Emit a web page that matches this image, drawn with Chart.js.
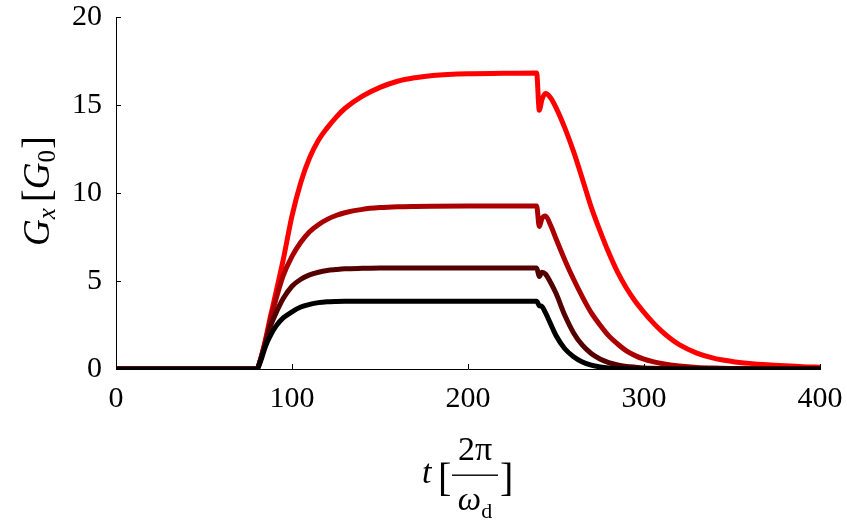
<!DOCTYPE html>
<html>
<head>
<meta charset="utf-8">
<script src="https://cdn.jsdelivr.net/npm/chart.js@4.4.1/dist/chart.umd.min.js"></script>
<style>
    html, body { margin: 0; padding: 0; background: #ffffff; }
    #wrap { width: 847px; height: 524px; position: relative; }
</style>
</head>
<body>
<div id="wrap"><canvas id="gxChart" width="847" height="524"></canvas></div>
<script>
// time axis, in units of 2*pi/omega_d
const times = [0, 80, 82, 85, 88, 91, 95, 100, 105, 110, 115, 120, 125, 130, 140, 150, 160, 170, 180, 200, 220, 239,
    240.5, 242, 244, 247, 250, 255, 260, 265, 270, 275, 280, 285, 290, 295, 300, 305, 310, 315, 320, 330, 340, 350, 360, 370, 380, 390, 400]

const gxRed = [0, 0, 0.5, 1.7, 3.1, 4.4, 6.2, 8.7, 10.6, 12.0, 13.0, 13.7, 14.3, 14.8, 15.5, 16.0, 16.35, 16.55, 16.68, 16.78, 16.8, 16.82,
    14.7, 15.3, 15.65, 15.4, 14.85, 13.7, 12.35, 10.8, 9.2, 7.85, 6.6, 5.5, 4.6, 3.85, 3.22, 2.65, 2.15, 1.73, 1.38, 0.9, 0.6, 0.43, 0.32, 0.24, 0.18, 0.13, 0.1]

const gxDarkRed = [0, 0, 0.5, 1.6, 2.9, 4.0, 5.3, 6.4, 7.2, 7.8, 8.2, 8.5, 8.72, 8.88, 9.07, 9.17, 9.22, 9.24, 9.25, 9.26, 9.26, 9.26,
    8.1, 8.55, 8.7, 8.15, 7.4, 6.2, 5.1, 4.1, 3.2, 2.5, 1.88, 1.42, 1.03, 0.76, 0.56, 0.42, 0.31, 0.23, 0.17, 0.09, 0.05, 0.03, 0.02, 0.01, 0.01, 0, 0]

const gxMaroon = [0, 0, 0.5, 1.5, 2.5, 3.2, 4.0, 4.7, 5.1, 5.35, 5.5, 5.6, 5.65, 5.69, 5.72, 5.74, 5.74, 5.74, 5.74, 5.74, 5.74, 5.74,
    5.25, 5.5, 5.4, 4.9, 4.3, 3.05, 2.05, 1.35, 0.88, 0.57, 0.36, 0.23, 0.15, 0.1, 0.06, 0.04, 0.03, 0.02, 0.01, 0, 0, 0, 0, 0, 0, 0, 0]

const gxBlack = [0, 0, 0.4, 1.3, 1.95, 2.45, 2.9, 3.25, 3.52, 3.67, 3.77, 3.82, 3.84, 3.85, 3.85, 3.85, 3.85, 3.85, 3.85, 3.85, 3.85, 3.85,
    3.6, 3.55, 3.2, 2.55, 1.9, 1.15, 0.7, 0.4, 0.22, 0.12, 0.06, 0.03, 0.01, 0, 0, 0, 0, 0, 0, 0, 0, 0, 0, 0, 0, 0, 0]

const xTicks = [0, 100, 200, 300, 400]
const yTicks = [0, 5, 10, 15, 20]

const serif = "'Liberation Serif', 'DejaVu Serif', serif"

const toPoints = (vals) => vals.map((v, i) => ({ x: times[i], y: v }))

// small inward tick marks, like the original frame
const innerTicks = {
    id: "innerTicks",
    beforeDatasetsDraw(chart) {
        const { ctx, chartArea, scales } = chart
        ctx.save()
        ctx.strokeStyle = "#000"
        ctx.lineWidth = 1
        ctx.beginPath()
        for (const v of xTicks) {
            const px = Math.round(scales.x.getPixelForValue(v)) + 0.5
            ctx.moveTo(px, chartArea.bottom)
            ctx.lineTo(px, chartArea.bottom - 5)
        }
        for (const v of yTicks) {
            const py = Math.round(scales.y.getPixelForValue(v)) + 0.5
            ctx.moveTo(chartArea.left, py)
            ctx.lineTo(chartArea.left + 5, py)
        }
        ctx.stroke()
        ctx.restore()
    },
}

// axis titles with the maths layout
const axisTitles = {
    id: "axisTitles",
    afterDraw(chart) {
        const { ctx, chartArea } = chart
        ctx.save()
        ctx.fillStyle = "#000"
        ctx.textBaseline = "alphabetic"

        // y title: G_x [G_0], rotated
        const parts = [
            { t: "G", f: `italic 37px ${serif}`, dy: 0, gap: 0 },
            { t: "x", f: `italic 25px ${serif}`, dy: 6, gap: 0 },
            { t: "[", f: `39px ${serif}`, dy: 1, gap: 6 },
            { t: "G", f: `italic 37px ${serif}`, dy: 0, gap: 0 },
            { t: "0", f: `25px ${serif}`, dy: 6, gap: 0 },
            { t: "]", f: `39px ${serif}`, dy: 1, gap: 1 },
        ]
        let total = 0
        for (const p of parts) {
            ctx.font = p.f
            p.w = ctx.measureText(p.t).width
            total += p.w + p.gap
        }
        ctx.translate(49, 191)
        ctx.rotate(-Math.PI / 2)
        let x = -total / 2
        for (const p of parts) {
            x += p.gap
            ctx.font = p.f
            ctx.fillText(p.t, x, p.dy)
            x += p.w
        }
        ctx.setTransform(1, 0, 0, 1, 0, 0)

        // x title: t [2pi / omega_d]
        const cx = (chartArea.left + chartArea.right) / 2 + 7
        ctx.textAlign = "left"
        ctx.font = `italic 34px ${serif}`
        ctx.fillText("t", cx - 53, 483)
        ctx.font = `40px ${serif}`
        ctx.fillText("[", cx - 37, 491)
        ctx.fillText("]", cx + 25, 491)
        ctx.textAlign = "center"
        ctx.font = `34px ${serif}`
        ctx.fillText("2\u03c0", cx, 460)
        ctx.fillRect(cx - 23, 474.5, 46, 1.4)
        ctx.textAlign = "left"
        ctx.font = `italic 33px ${serif}`
        const ww = ctx.measureText("\u03c9").width
        ctx.font = `22px ${serif}`
        const dw = ctx.measureText("d").width
        const sx = cx - (ww + dw) / 2
        ctx.font = `italic 33px ${serif}`
        ctx.fillText("\u03c9", sx, 510)
        ctx.font = `22px ${serif}`
        ctx.fillText("d", sx + ww, 518)
        ctx.restore()
    },
}

const lineStyle = {
    pointRadius: 0,
    borderWidth: 5,
    fill: false,
    cubicInterpolationMode: "monotone",
    borderJoinStyle: "round",
    borderCapStyle: "round",
}

new Chart(document.getElementById("gxChart"), {
    type: "line",
    data: {
        datasets: [
            { label: "black", data: toPoints(gxBlack), borderColor: "#000000", ...lineStyle },
            { label: "maroon", data: toPoints(gxMaroon), borderColor: "#550000", ...lineStyle },
            { label: "dark red", data: toPoints(gxDarkRed), borderColor: "#aa0000", ...lineStyle },
            { label: "red", data: toPoints(gxRed), borderColor: "#ff0000", ...lineStyle },
        ],
    },
    options: {
        responsive: false,
        animation: false,
        layout: { padding: { left: 0, top: 17, right: 27, bottom: 0 } },
        plugins: {
            legend: { display: false },
            tooltip: { enabled: false },
        },
        scales: {
            x: {
                type: "linear",
                min: 0,
                max: 400,
                afterBuildTicks: (s) => { s.ticks = xTicks.map((v) => ({ value: v })) },
                afterFit: (s) => {
                    s.height = 155
                    s.paddingLeft = 0
                    s.paddingRight = 0
                },
                grid: { display: false },
                border: { display: true, color: "#000", width: 1 },
                ticks: { color: "#000", padding: 4, maxRotation: 0, font: { family: serif, size: 30 } },
            },
            y: {
                min: 0,
                max: 20,
                afterBuildTicks: (s) => { s.ticks = yTicks.map((v) => ({ value: v })) },
                afterFit: (s) => {
                    s.width = 116
                    s.paddingTop = 0
                    s.paddingBottom = 0
                },
                grid: { display: false },
                border: { display: true, color: "#000", width: 1 },
                ticks: { color: "#000", padding: 6, font: { family: serif, size: 30 } },
            },
        },
    },
    plugins: [innerTicks, axisTitles],
})
</script>
</body>
</html>
